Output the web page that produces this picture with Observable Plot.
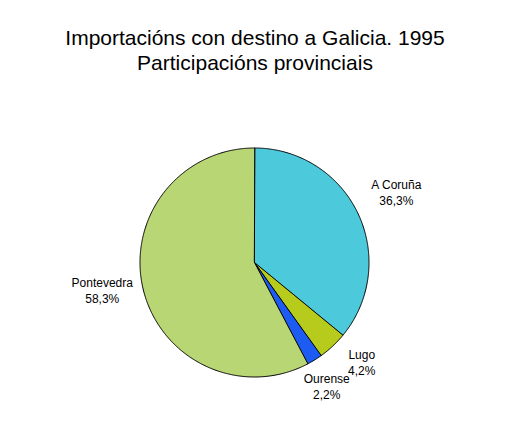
<!DOCTYPE html>
<html>
<head>
<meta charset="utf-8">
<script src="https://cdn.jsdelivr.net/npm/d3@7"></script>
<script src="https://cdn.jsdelivr.net/npm/@observablehq/plot@0.6"></script>
<style>
  html, body { margin: 0; padding: 0; background: #fff; }
  svg { display: block; }
</style>
</head>
<body>
<div id="chart"></div>
<script>
// ---- data ----
const provinces = ["A Coruña", "Lugo", "Ourense", "Pontevedra"];
const shares = [36.3, 4.2, 2.2, 58.3];
const shareLabels = ["36,3%", "4,2%", "2,2%", "58,3%"];
const colors = ["#4ccadc", "#b6cb1c", "#1c5cf2", "#b9d675"];
const titleLines = ["Importacións con destino a Galicia. 1995", "Participacións provinciais"];

// ---- build pie geometry from the data (angle from top, clockwise) ----
const total = d3.sum(shares);
const slices = [];
let start = 0;
provinces.forEach((p, i) => {
  const a0 = start / total * 2 * Math.PI;
  const a1 = (start + shares[i]) / total * 2 * Math.PI;
  start += shares[i];
  slices.push({name: p, label: shareLabels[i], a0, a1, mid: (a0 + a1) / 2});
});

const pts = [];
for (const s of slices) {
  pts.push({name: s.name, x: 0, y: 0});
  const n = Math.max(2, Math.ceil((s.a1 - s.a0) / (Math.PI / 360)));
  for (let k = 0; k <= n; k++) {
    const a = s.a0 + (s.a1 - s.a0) * k / n;
    pts.push({name: s.name, x: Math.sin(a), y: Math.cos(a)});
  }
}

const cx = 254, cy = 262, r = 114.5;

// label placement outside the slice, with simple collision avoidance
const labelData = slices.map(s => ({
  x: 1.37 * Math.sin(s.mid),
  y: 1.28 * Math.cos(s.mid),
  text: s.name + "\n" + s.label
}));
const minGap = 24 / r, minDx = 50 / r, shiftDx = 35 / r;
for (let i = 1; i < labelData.length; i++) {
  const a = labelData[i - 1], b = labelData[i];
  if (Math.abs(a.x - b.x) < minDx && Math.abs(a.y - b.y) < minGap) {
    b.y = a.y - minGap;
    b.x = Math.min(b.x, a.x - shiftDx);
  }
}

const chart = Plot.plot({
  width: 509,
  height: 437,
  margin: 0,
  style: {fontFamily: "Arial, 'Liberation Sans', sans-serif", background: "#fff"},
  x: {domain: [-1, 1], range: [cx - r, cx + r], axis: null},
  y: {domain: [-1, 1], range: [cy + r, cy - r], axis: null},
  color: {domain: provinces, range: colors},
  marks: [
    Plot.line(pts, {x: "x", y: "y", z: "name", fill: "name", stroke: "#000", strokeWidth: 1, curve: "linear-closed"}),
    Plot.text(labelData, {x: "x", y: "y", text: "text", dy: -8, fontSize: 12, lineHeight: 1.33, fill: "#000", textAnchor: "middle", lineAnchor: "middle"}),
    Plot.text([titleLines.join("\n")], {frameAnchor: "top", dy: 27, lineAnchor: "top", fontSize: 21, lineHeight: 1.19, fill: "#000"})
  ]
});
document.getElementById("chart").appendChild(chart);
</script>
</body>
</html>
